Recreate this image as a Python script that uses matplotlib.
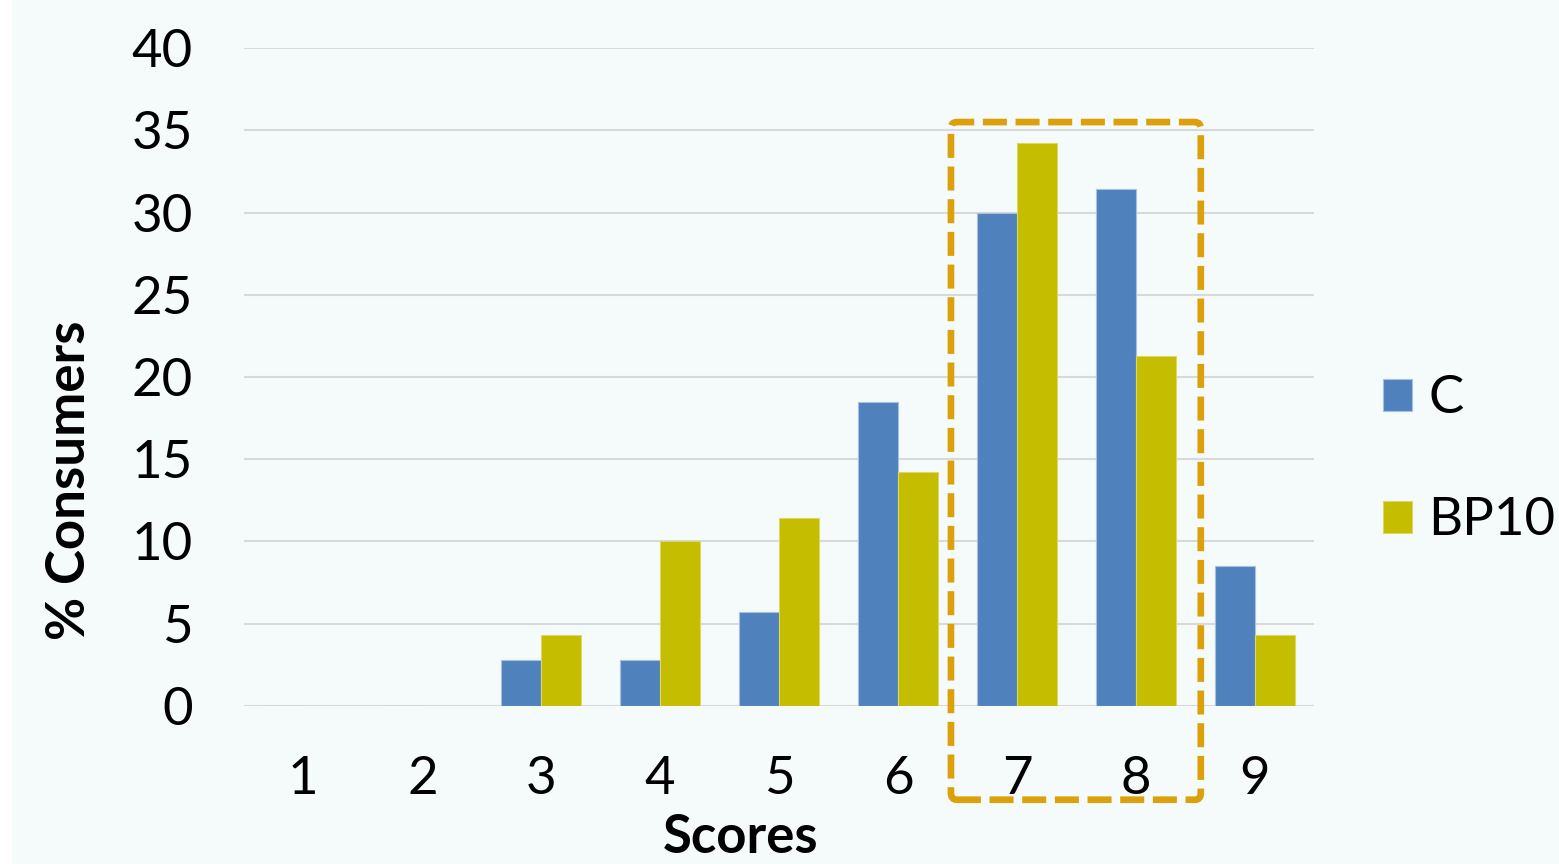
import matplotlib
matplotlib.use("Agg")
import matplotlib.pyplot as plt
import numpy as np
from matplotlib.patches import FancyBboxPatch

scores = ["1", "2", "3", "4", "5", "6", "7", "8", "9"]
c_values = [0, 0, 2.8, 2.8, 5.7, 18.5, 30.0, 31.4, 8.5]
bp10_values = [0, 0, 4.3, 10.0, 11.4, 14.2, 34.2, 21.3, 4.3]
series_names = ["C", "BP10"]
highlight_scores = [7, 8]

plt.rcParams["font.family"] = ["Lato", "DejaVu Sans"]

bg = "#f5fafa"
fig = plt.figure(figsize=(15.59, 8.64), dpi=100, facecolor="white")
fig.patches.append(plt.Rectangle((0.008, 0), 0.992, 1, transform=fig.transFigure,
                                 facecolor=bg, edgecolor="none", zorder=-10))
ax = fig.add_axes([0.1565, 0.1829, 0.6865, 0.7615])
ax.set_facecolor(bg)

x = np.arange(1, len(scores) + 1)
w = 0.335
ax.bar(x - w / 2, c_values, w, color="#4f81bd", edgecolor="#a9c1e0",
       linewidth=0.8, label=series_names[0], zorder=3)
ax.bar(x + w / 2, bp10_values, w, color="#c4bd00", edgecolor="#dcd766",
       linewidth=0.8, label=series_names[1], zorder=3)

fs = 38
ax.set_xlim(0.5, 9.5)
ax.set_ylim(0, 40)
ax.set_yticks(range(0, 41, 5))
ax.set_xticks(x)
ax.set_xticklabels(scores)
ax.tick_params(axis="both", length=0, labelsize=fs, colors="black")
ax.tick_params(axis="y", pad=37)
ax.tick_params(axis="x", pad=36)
ax.grid(axis="y", color="#d9d9d9", linewidth=1.5, zorder=0)
for s in ax.spines.values():
    s.set_visible(False)

ax.set_xlabel("Scores", fontsize=fs, fontweight="bold")
ax.xaxis.set_label_coords(0.464, -0.163)
ax.set_ylabel("% Consumers", fontsize=fs, fontweight="bold")
ax.yaxis.set_label_coords(-0.14, 0.343)

# dashed highlight box around scores 7 and 8
x0 = highlight_scores[0] - 0.555
x1 = highlight_scores[-1] + 0.546
box = FancyBboxPatch((x0, -5.7), x1 - x0, 41.2, boxstyle="round,pad=0,rounding_size=0.05",
                     fill=False, edgecolor="#dba00a", linewidth=4.8,
                     linestyle=(0, (3.6, 1.3)), clip_on=False, zorder=5,
                     mutation_aspect=8)
ax.add_patch(box)

ax.legend(loc="center left", bbox_to_anchor=(1.0645, 0.374), frameon=False,
          fontsize=fs, handlelength=0.55, handleheight=0.55,
          handletextpad=0.3, labelspacing=1.42, borderpad=0, borderaxespad=0)

fig.savefig("out.png", dpi=100, facecolor="white")
